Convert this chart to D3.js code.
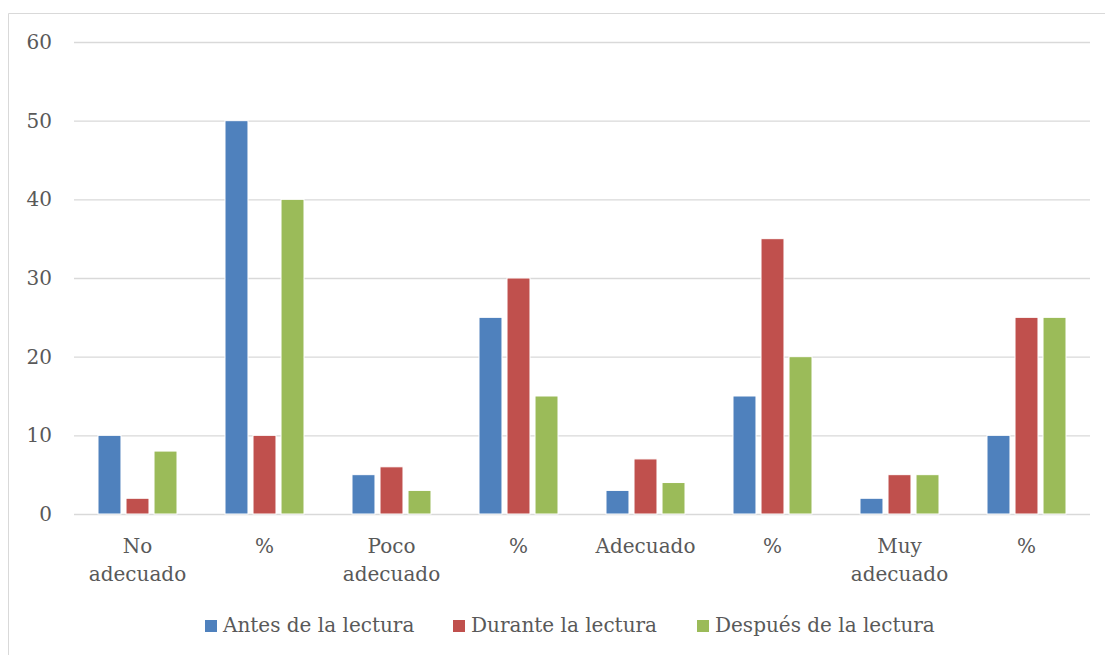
<!DOCTYPE html>
<html>
<head>
<meta charset="utf-8">
<script src="https://cdn.jsdelivr.net/npm/d3@7/dist/d3.min.js"></script>
<style>
  html, body { margin: 0; padding: 0; background: #fff; }
  svg { display: block; }
  text { font-family: "DejaVu Serif", serif; fill: #595959; }
</style>
</head>
<body>
<svg id="chart" width="1105" height="655"></svg>
<script>
const categories = [["No", "adecuado"], ["%"], ["Poco", "adecuado"], ["%"], ["Adecuado"], ["%"], ["Muy", "adecuado"], ["%"]];
const seriesNames = ["Antes de la lectura", "Durante la lectura", "Después de la lectura"];
const antes   = [10, 50, 5, 25, 3, 15, 2, 10];
const durante = [2, 10, 6, 30, 7, 35, 5, 25];
const despues = [8, 40, 3, 15, 4, 20, 5, 25];
const yTicks = [0, 10, 20, 30, 40, 50, 60];
const colors = ["#4F81BD", "#C0504D", "#9BBB59"];

const seriesValues = [antes, durante, despues];
const svg = d3.select("#chart");

// frame
svg.append("path")
  .attr("d", "M8.5,655 L8.5,13.5 L1105,13.5")
  .attr("fill", "none").attr("stroke", "#D9D9D9").attr("stroke-width", 1);

const plotL = 74, plotR = 1090, plotT = 42, plotB = 514;
const idx = categories.map((d, i) => i);
const x0 = d3.scaleBand().domain(idx).range([plotL, plotR]).padding(0);
const x1 = d3.scaleBand().domain(d3.range(seriesNames.length))
  .range([0, x0.bandwidth()]).paddingInner(0.18).paddingOuter(0.857);
const y = d3.scaleLinear().domain([0, 60]).range([plotB, plotT]);

// gridlines
const grid = svg.append("g").attr("transform", `translate(${plotL},0)`)
  .call(d3.axisLeft(y).tickValues(yTicks).tickSize(-(plotR - plotL)).tickFormat(""));
grid.select(".domain").remove();
grid.selectAll("line").attr("stroke", "#D9D9D9").attr("stroke-width", 1.3);

// y labels
svg.append("g").selectAll("text").data(yTicks).join("text")
  .attr("x", 52).attr("y", d => y(d)).attr("dy", "0.35em")
  .attr("text-anchor", "end").style("font-size", "20px").text(d => d);

// bars
const groups = svg.append("g").selectAll("g").data(idx).join("g")
  .attr("transform", i => `translate(${x0(i)},0)`);
groups.selectAll("rect").data(i => seriesValues.map((s, k) => ({k, v: s[i]}))).join("rect")
  .attr("x", d => x1(d.k)).attr("width", x1.bandwidth())
  .attr("y", d => y(d.v)).attr("height", d => y(0) - y(d.v))
  .attr("fill", d => colors[d.k]).attr("stroke", "#fff").attr("stroke-width", 1);

// x labels
const xl = svg.append("g").selectAll("text").data(idx).join("text")
  .attr("text-anchor", "middle").style("font-size", "20px")
  .attr("x", i => x0(i) + x0.bandwidth() / 2).attr("y", 553);
xl.selectAll("tspan").data(i => categories[i]).join("tspan")
  .attr("x", function() { return d3.select(this.parentNode).attr("x"); })
  .attr("dy", (d, j) => j === 0 ? 0 : 28).text(d => d);

// legend
const legendSq = [205, 453, 697];
const leg = svg.append("g").selectAll("g").data(seriesNames).join("g");
leg.append("rect").attr("x", (d, i) => legendSq[i]).attr("y", 620)
  .attr("width", 12).attr("height", 12).attr("fill", (d, i) => colors[i]);
leg.append("text").attr("x", (d, i) => legendSq[i] + 18).attr("y", 632)
  .style("font-size", "20px").text(d => d);
</script>
</body>
</html>
